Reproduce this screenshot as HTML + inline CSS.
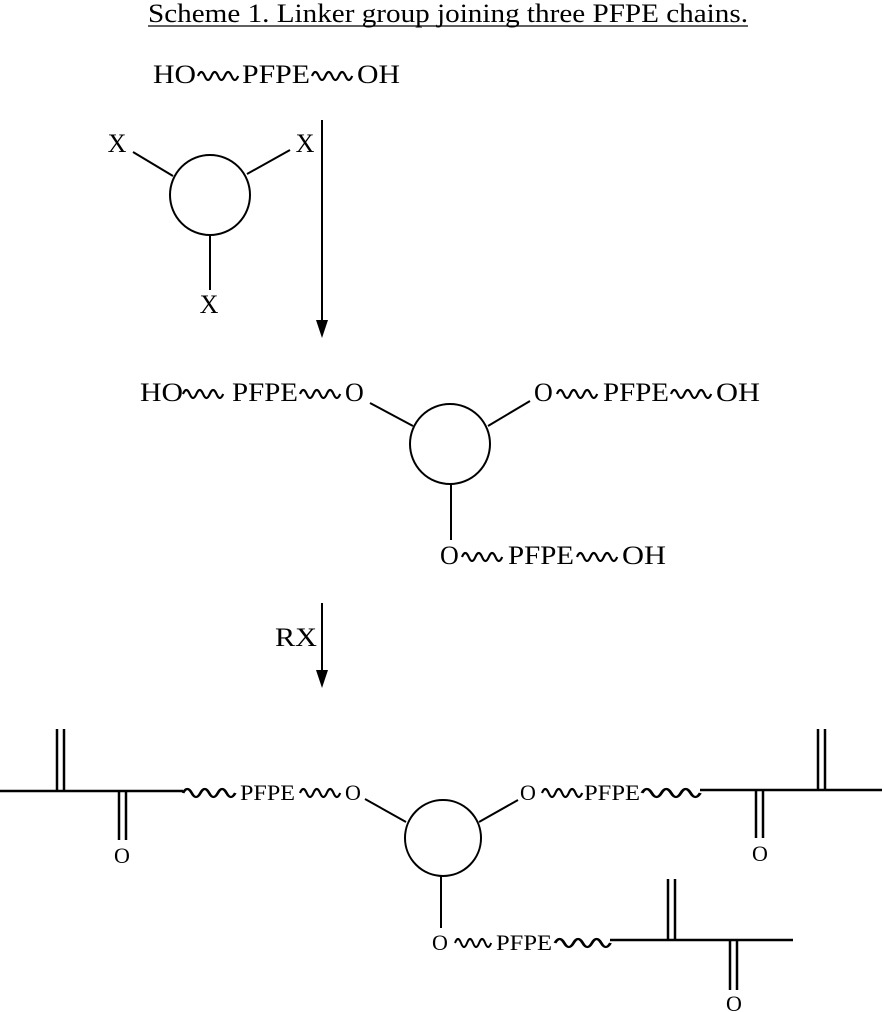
<!DOCTYPE html>
<html><head><meta charset="utf-8"><style>
html,body{margin:0;padding:0;background:#fff;}
svg{display:block;}
text{font-family:"Liberation Serif",serif;fill:#000;}
</style></head><body>
<svg width="884" height="1012" viewBox="0 0 884 1012" xmlns="http://www.w3.org/2000/svg">
<defs>
<path id="w40" d="M0 0 q3.3 -8 6.7 0 q3.3 8 6.7 0 q3.3 -8 6.7 0 q3.3 8 6.7 0 q3.3 -8 6.7 0 q3.3 8 6.7 0" fill="none" stroke="#000" stroke-width="2.2"/>
</defs>
<g stroke="#000" stroke-width="2" fill="none">
<line x1="148" y1="26" x2="748" y2="26" stroke-width="1.2"/>
<circle cx="210" cy="195" r="40"/>
<line x1="133" y1="152" x2="173" y2="176"/>
<line x1="247" y1="174" x2="290" y2="150"/>
<line x1="210" y1="235" x2="210" y2="290"/>
<line x1="322" y1="120" x2="322" y2="325"/>
<circle cx="450" cy="444" r="40"/>
<line x1="370" y1="403" x2="413" y2="426"/>
<line x1="488" y1="426" x2="530" y2="401"/>
<line x1="451" y1="484" x2="451" y2="540"/>
<line x1="322" y1="603" x2="322" y2="675"/>
<circle cx="443" cy="838" r="38"/>
<line x1="365" y1="799" x2="406" y2="822"/>
<line x1="479" y1="822" x2="518" y2="800"/>
<line x1="441" y1="876" x2="441" y2="928"/>
</g>
<polygon points="316,320 328,320 322,338" fill="#000"/>
<polygon points="316,670 328,670 322,688" fill="#000"/>
<g stroke="#000" stroke-width="2.5" fill="none">
<line x1="0" y1="791" x2="183" y2="791"/>
<line x1="57" y1="729" x2="57" y2="791"/>
<line x1="64" y1="729" x2="64" y2="791"/>
<line x1="119" y1="791" x2="119" y2="840"/>
<line x1="126" y1="791" x2="126" y2="840"/>
<line x1="700" y1="790" x2="882" y2="790"/>
<line x1="756" y1="790" x2="756" y2="838"/>
<line x1="763" y1="790" x2="763" y2="838"/>
<line x1="818" y1="729" x2="818" y2="790"/>
<line x1="825" y1="729" x2="825" y2="790"/>
<line x1="610" y1="940" x2="793" y2="940"/>
<line x1="668" y1="879" x2="668" y2="940"/>
<line x1="675" y1="879" x2="675" y2="940"/>
<line x1="730" y1="940" x2="730" y2="990"/>
<line x1="737" y1="940" x2="737" y2="990"/>
</g>
<use href="#w40" transform="translate(198,76)"/>
<use href="#w40" transform="translate(312,76)"/>
<use href="#w40" transform="translate(183,394)"/>
<use href="#w40" transform="translate(300,394)"/>
<use href="#w40" transform="translate(557,394)"/>
<use href="#w40" transform="translate(671,394)"/>
<use href="#w40" transform="translate(462,557)"/>
<use href="#w40" transform="translate(577,557)"/>
<use href="#w40" transform="translate(183,793) scale(1.3,1)"/>
<use href="#w40" transform="translate(300,793)"/>
<use href="#w40" transform="translate(542,793)"/>
<use href="#w40" transform="translate(642,793) scale(1.45,1)"/>
<use href="#w40" transform="translate(455,943) scale(0.9,1)"/>
<use href="#w40" transform="translate(555,943) scale(1.38,1)"/>
<g font-size="26" lengthAdjust="spacingAndGlyphs">
<text x="148" y="22" textLength="600" lengthAdjust="spacingAndGlyphs">Scheme 1. Linker group joining three PFPE chains.</text>
<text x="153" y="83" textLength="43" lengthAdjust="spacingAndGlyphs">HO</text>
<text x="242" y="83" textLength="68" lengthAdjust="spacingAndGlyphs">PFPE</text>
<text x="357" y="83" textLength="43" lengthAdjust="spacingAndGlyphs">OH</text>
<text x="117" y="152" text-anchor="middle">X</text>
<text x="305" y="152" text-anchor="middle">X</text>
<text x="209" y="313" text-anchor="middle">X</text>
<text x="140" y="401" textLength="43" lengthAdjust="spacingAndGlyphs">HO</text>
<text x="232" y="401" textLength="66" lengthAdjust="spacingAndGlyphs">PFPE</text>
<text x="345" y="401">O</text>
<text x="534" y="401">O</text>
<text x="603" y="401" textLength="66" lengthAdjust="spacingAndGlyphs">PFPE</text>
<text x="716" y="401" textLength="44" lengthAdjust="spacingAndGlyphs">OH</text>
<text x="440" y="564">O</text>
<text x="508" y="564" textLength="66" lengthAdjust="spacingAndGlyphs">PFPE</text>
<text x="622" y="564" textLength="44" lengthAdjust="spacingAndGlyphs">OH</text>
<text x="275" y="646" textLength="42" lengthAdjust="spacingAndGlyphs">RX</text>
</g>
<g font-size="22">
<text x="240" y="800" textLength="55" lengthAdjust="spacingAndGlyphs">PFPE</text>
<text x="345" y="800">O</text>
<text x="122" y="863" text-anchor="middle">O</text>
<text x="520" y="800">O</text>
<text x="584" y="800" textLength="56" lengthAdjust="spacingAndGlyphs">PFPE</text>
<text x="760" y="861" text-anchor="middle">O</text>
<text x="432" y="950">O</text>
<text x="496" y="950" textLength="56" lengthAdjust="spacingAndGlyphs">PFPE</text>
<text x="734" y="1011" text-anchor="middle">O</text>
</g>
</svg>
</body></html>
